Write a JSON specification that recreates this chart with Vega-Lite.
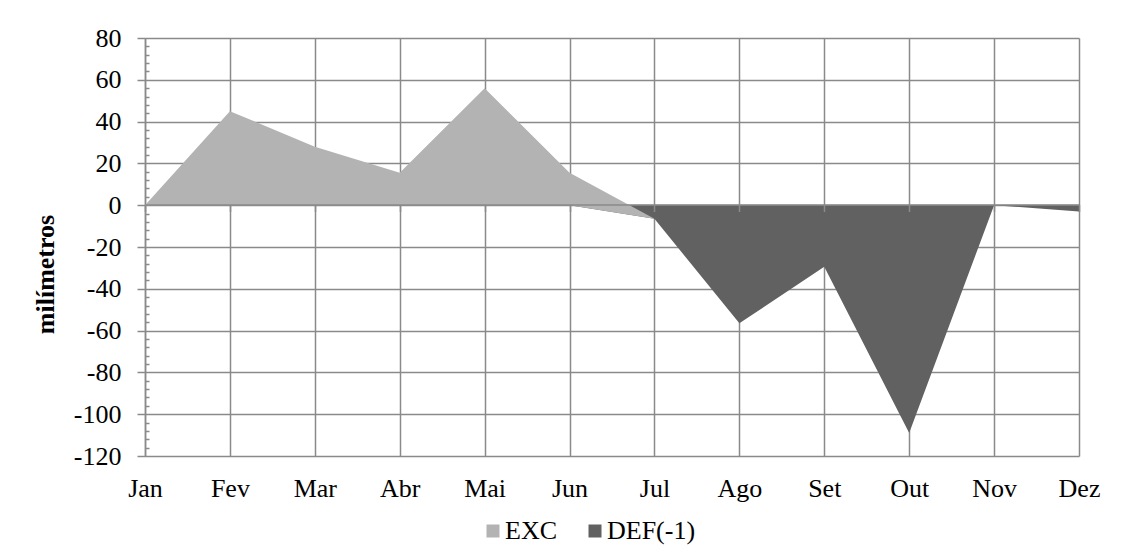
{
  "$schema": "https://vega.github.io/schema/vega-lite/v6.json",
  "width": 934,
  "height": 418,
  "autosize": {"type": "none"},
  "padding": {"left": 145, "top": 38, "right": 50, "bottom": 101},
  "background": "white",
  "config": {"view": {"stroke": null}},
  "data": {
    "values": [
      {"mes": "Jan", "serie": "EXC", "valor": 0, "base": 0},
      {"mes": "Fev", "serie": "EXC", "valor": 45, "base": 0},
      {"mes": "Mar", "serie": "EXC", "valor": 28, "base": 0},
      {"mes": "Abr", "serie": "EXC", "valor": 15.5, "base": 0},
      {"mes": "Mai", "serie": "EXC", "valor": 56, "base": 0},
      {"mes": "Jun", "serie": "EXC", "valor": 15.5, "base": 0},
      {"mes": "Jul", "serie": "EXC", "valor": -6.5, "base": -6.5},
      {"mes": "Jan", "serie": "DEF(-1)", "valor": 0, "base": 0},
      {"mes": "Fev", "serie": "DEF(-1)", "valor": 0, "base": 0},
      {"mes": "Mar", "serie": "DEF(-1)", "valor": 0, "base": 0},
      {"mes": "Abr", "serie": "DEF(-1)", "valor": 0, "base": 0},
      {"mes": "Mai", "serie": "DEF(-1)", "valor": 0, "base": 0},
      {"mes": "Jun", "serie": "DEF(-1)", "valor": 0, "base": 0},
      {"mes": "Jul", "serie": "DEF(-1)", "valor": -6.5, "base": 0},
      {"mes": "Ago", "serie": "DEF(-1)", "valor": -56.5, "base": 0},
      {"mes": "Set", "serie": "DEF(-1)", "valor": -29.5, "base": 0},
      {"mes": "Out", "serie": "DEF(-1)", "valor": -109, "base": 0},
      {"mes": "Nov", "serie": "DEF(-1)", "valor": 0, "base": 0},
      {"mes": "Dez", "serie": "DEF(-1)", "valor": -3, "base": 0}
    ]
  },
  "encoding": {
    "y": {
      "field": "valor",
      "type": "quantitative",
      "scale": {"domain": [-120, 80], "nice": false, "zero": false},
      "axis": {
        "title": "milímetros",
        "titleFont": "Liberation Serif",
        "titleFontSize": 26,
        "titleFontWeight": "bold",
        "titleColor": "black",
        "titleAngle": 270,
        "titleAlign": "center",
        "titleBaseline": "alphabetic",
        "titleX": -92,
        "titleY": 236,
        "values": [-120, -116, -112, -108, -104, -100, -96, -92, -88, -84, -80, -76, -72, -68, -64, -60, -56, -52, -48, -44, -40, -36, -32, -28, -24, -20, -16, -12, -8, -4, 0, 4, 8, 12, 16, 20, 24, 28, 32, 36, 40, 44, 48, 52, 56, 60, 64, 68, 72, 76, 80],
        "labelExpr": "datum.value % 20 === 0 ? '' + datum.value : ''",
        "labelFont": "Liberation Serif",
        "labelFontSize": 26,
        "labelColor": "black",
        "labelPadding": 16,
        "labelOverlap": false,
        "tickSize": {"condition": {"test": "datum.value % 20 === 0", "value": 8}, "value": -4},
        "tickColor": "#8a8a8a",
        "tickWidth": 1.5,
        "domainColor": "#8a8a8a",
        "domainWidth": 1.5,
        "grid": true,
        "gridColor": "#8a8a8a",
        "gridWidth": 1.5,
        "gridOpacity": {"condition": {"test": "datum.value % 20 === 0", "value": 1}, "value": 0}
      }
    },
    "y2": {"field": "base"},
    "color": {
      "field": "serie",
      "type": "nominal",
      "scale": {"domain": ["EXC", "DEF(-1)"], "range": ["#b3b3b3", "#616161"]},
      "legend": {
        "title": null,
        "orient": "none",
        "legendX": 335,
        "legendY": 480,
        "direction": "horizontal",
        "symbolType": "square",
        "symbolSize": 169,
        "symbolStrokeWidth": 0,
        "symbolOpacity": 1,
        "labelFont": "Liberation Serif",
        "labelFontSize": 26,
        "labelColor": "black",
        "labelOffset": -1,
        "columnPadding": 25
      }
    }
  },
  "layer": [
    {
      "transform": [{"filter": "datum.serie === 'DEF(-1)'"}],
      "mark": {"type": "area", "opacity": 1, "interpolate": "linear"},
      "encoding": {
        "x": {
          "field": "mes",
          "type": "ordinal",
          "sort": null,
          "scale": {"type": "point", "padding": 0, "domain": ["Jan", "Fev", "Mar", "Abr", "Mai", "Jun", "Jul", "Ago", "Set", "Out", "Nov", "Dez"]},
          "axis": {
            "title": null,
            "labelFont": "Liberation Serif",
            "labelFontSize": 26,
            "labelColor": "black",
            "labelAngle": 0,
            "labelBaseline": "alphabetic",
            "labelPadding": 40,
            "ticks": false,
            "tickSize": 0,
            "domain": false,
            "grid": true,
            "gridColor": "#8a8a8a",
            "gridWidth": 1.5
          }
        }
      }
    },
    {
      "transform": [{"filter": "datum.serie === 'EXC'"}],
      "mark": {"type": "area", "opacity": 1, "interpolate": "linear"},
      "encoding": {
        "x": {
          "field": "mes",
          "type": "ordinal",
          "sort": null,
          "scale": {"type": "point", "padding": 0, "domain": ["Jan", "Fev", "Mar", "Abr", "Mai", "Jun", "Jul", "Ago", "Set", "Out", "Nov", "Dez"]},
          "axis": {
            "orient": "top",
            "title": null,
            "labels": false,
            "grid": false,
            "domain": true,
            "domainColor": "#8a8a8a",
            "domainWidth": 1.5,
            "ticks": true,
            "tickSize": -7,
            "tickColor": "#8a8a8a",
            "tickWidth": 1.5,
            "offset": -166.5,
            "zindex": 1
          }
        }
      }
    }
  ],
  "resolve": {"axis": {"x": "independent"}}
}
